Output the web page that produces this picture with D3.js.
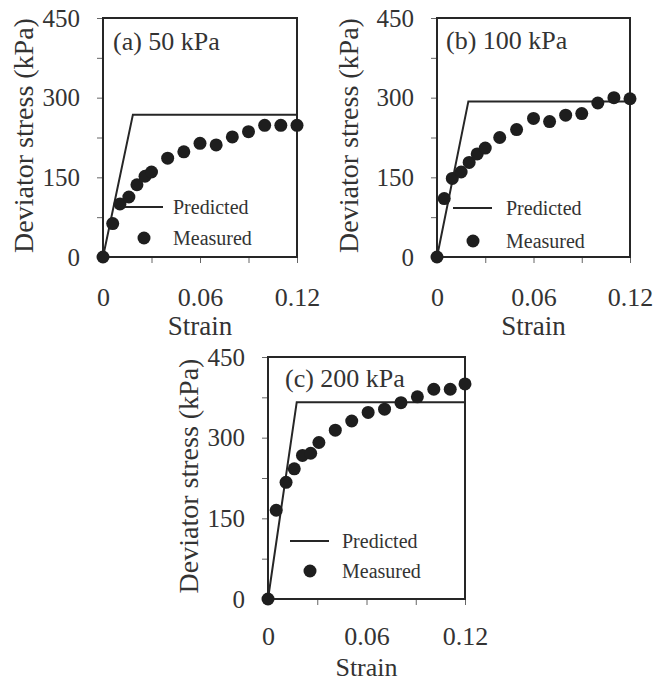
<!DOCTYPE html>
<html>
<head>
<meta charset="utf-8">
<script src="https://cdn.jsdelivr.net/npm/d3@7"></script>
<style>
  body { margin: 0; background: #fff; }
  svg text { font-family: 'Liberation Serif', 'DejaVu Serif', 'Times New Roman', Times, serif; fill: #333; }
</style>
</head>
<body>
<svg width="670" height="682"></svg>
<script>
// measured points
const strainA = [0, 0.006, 0.0105, 0.016, 0.021, 0.026, 0.030, 0.040, 0.050, 0.060, 0.070, 0.080, 0.090, 0.100, 0.110, 0.120];
const stressA = [0, 63, 100, 113, 136, 152, 160, 186, 198, 214, 211, 226, 236, 248, 248, 248];
const strainB = [0, 0.0045, 0.0095, 0.015, 0.020, 0.025, 0.030, 0.039, 0.0495, 0.060, 0.070, 0.080, 0.090, 0.100, 0.110, 0.120];
const stressB = [0, 110, 148, 160, 178, 194, 205, 225, 240, 261, 255, 267, 270, 290, 300, 298];
const strainC = [0, 0.005, 0.011, 0.016, 0.021, 0.026, 0.031, 0.041, 0.051, 0.061, 0.071, 0.081, 0.091, 0.101, 0.111, 0.120];
const stressC = [0, 165, 217, 242, 267, 271, 291, 314, 331, 347, 353, 365, 376, 390, 390, 400];

// predicted bilinear curves
const predStrainA = [0, 0.0185, 0.12];
const predStressA = [0, 268, 268];
const predStrainB = [0, 0.0195, 0.12];
const predStressB = [0, 293, 293];
const predStrainC = [0, 0.0175, 0.12];
const predStressC = [0, 366, 366];

const titles = ['(a) 50 kPa', '(b) 100 kPa', '(c) 200 kPa'];
const xTicks = [0, 0.03, 0.06, 0.09, 0.12];
const xLabels = [0, 0.06, 0.12];
const yTicks = [0, 75, 150, 225, 300, 375, 450];
const yLabels = [0, 150, 300, 450];

const serif = "'Liberation Serif', 'DejaVu Serif', 'Times New Roman', Times, serif";
const zip = (xs, ys) => xs.map((x, i) => ({x: x, y: ys[i]}));

// frame boxes + a few per-panel offsets for text placement
const layout = [
  {x: 103, y: 18, w: 194, h: 239, ylab: 80, title: [10, 32], xpad: 25, xlab: 78, xfs: 27,
   leg: {l0: 22, l1: 60, ly: 189, tx: 70, dx: 41, dy: 220}},
  {x: 437, y: 18, w: 193, h: 239, ylab: 89, title: [9, 31], xpad: 25, xlab: 78, xfs: 27,
   leg: {l0: 16, l1: 55, ly: 190, tx: 69, dx: 36, dy: 223}},
  {x: 268, y: 357, w: 197, h: 242, ylab: 80, title: [17, 30], xpad: 22, xlab: 76.5, xfs: 26,
   leg: {l0: 22, l1: 61, ly: 184, tx: 74, dx: 42, dy: 214}}
];

const panels = [
  {meas: zip(strainA, stressA), pred: zip(predStrainA, predStressA)},
  {meas: zip(strainB, stressB), pred: zip(predStrainB, predStressB)},
  {meas: zip(strainC, stressC), pred: zip(predStrainC, predStressC)}
];

const svg = d3.select('svg').attr('font-family', serif);
const ink = '#262626';

panels.forEach((p, i) => {
  const L = layout[i];
  const g = svg.append('g').attr('transform', `translate(${L.x},${L.y})`);

  const x = d3.scaleLinear().domain([0, 0.12]).range([0, L.w]);
  const y = d3.scaleLinear().domain([0, 450]).range([L.h, 0]);

  const axX = d3.axisBottom(x)
    .tickValues(xTicks)
    .tickSizeInner(6).tickSizeOuter(0).tickPadding(L.xpad)
    .tickFormat(d => xLabels.some(v => Math.abs(v - d) < 1e-9) ? (d === 0 ? '0' : d3.format('.2f')(d)) : '');
  const gx = g.append('g').attr('transform', `translate(0,${L.h})`).call(axX)
    .attr('font-family', serif).attr('font-size', 26);
  gx.select('.domain').remove();
  gx.selectAll('line').attr('stroke', '#666');
  gx.selectAll('text').attr('fill', '#333');

  const axY = d3.axisLeft(y)
    .tickValues(yTicks)
    .tickSizeInner(6).tickSizeOuter(0).tickPadding(17)
    .tickFormat(d => yLabels.includes(d) ? d : '');
  const gy = g.append('g').call(axY)
    .attr('font-family', serif).attr('font-size', 25);
  gy.select('.domain').remove();
  gy.selectAll('line').attr('stroke', '#666');
  gy.selectAll('text').attr('fill', '#333');

  // frame
  g.append('rect')
    .attr('width', L.w).attr('height', L.h)
    .attr('fill', 'none').attr('stroke', ink).attr('stroke-width', 2);

  // predicted
  g.append('path')
    .datum(p.pred)
    .attr('fill', 'none').attr('stroke', ink).attr('stroke-width', 2)
    .attr('d', d3.line().x(d => x(d.x)).y(d => y(d.y)));

  // measured
  g.selectAll('circle.m')
    .data(p.meas)
    .enter().append('circle')
    .attr('class', 'm')
    .attr('cx', d => x(d.x)).attr('cy', d => y(d.y))
    .attr('r', 6.5).attr('fill', '#1e1e1e');

  // title
  g.append('text')
    .attr('x', L.title[0]).attr('y', L.title[1])
    .attr('font-size', 26)
    .text(titles[i]);

  // axis titles
  g.append('text')
    .attr('x', L.w / 2).attr('y', L.h + L.xlab)
    .attr('text-anchor', 'middle').attr('font-size', L.xfs)
    .text('Strain');
  g.append('text')
    .attr('transform', `translate(${-L.ylab},${L.h / 2 - 2}) rotate(-90)`)
    .attr('text-anchor', 'middle').attr('dominant-baseline', 'central')
    .attr('font-size', 28)
    .text('Deviator stress (kPa)');

  // legend
  const lg = L.leg;
  g.append('line')
    .attr('x1', lg.l0).attr('x2', lg.l1).attr('y1', lg.ly).attr('y2', lg.ly)
    .attr('stroke', ink).attr('stroke-width', 2);
  g.append('text')
    .attr('x', lg.tx).attr('y', lg.ly).attr('dominant-baseline', 'central')
    .attr('font-size', 20).text('Predicted');
  g.append('circle')
    .attr('cx', lg.dx).attr('cy', lg.dy).attr('r', 6.5).attr('fill', '#1e1e1e');
  g.append('text')
    .attr('x', lg.tx).attr('y', lg.dy).attr('dominant-baseline', 'central')
    .attr('font-size', 20).text('Measured');
});
</script>
</body>
</html>
